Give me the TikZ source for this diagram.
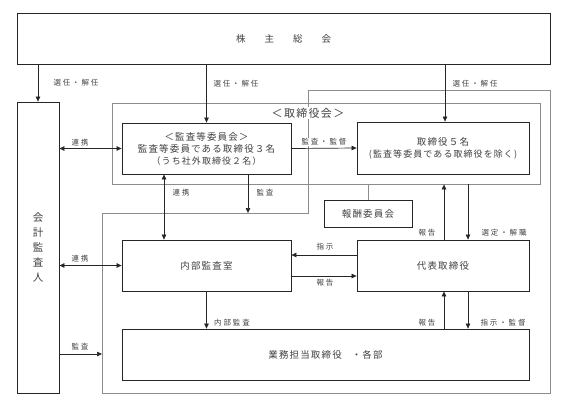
\documentclass[tikz,border=0pt]{standalone}
\usepackage{fontspec}
\setmainfont{Noto Sans CJK JP}
\newfontfamily\boxfont[LetterSpace=12]{Noto Sans CJK JP}
\newfontfamily\lblfont[LetterSpace=25]{Noto Sans CJK JP}
\usetikzlibrary{arrows.meta}
\tikzset{
  box/.style={draw=black!85, line width=.8bp, text=black!75, inner sep=0pt, align=center,
    font=\fontsize{9.5bp}{12bp}\selectfont\boxfont},
  grayline/.style={draw=black!45, line width=.8bp},
  lbl/.style={text=black!75, inner sep=1bp, font=\fontsize{7.5bp}{9bp}\selectfont\lblfont},
  conn/.style={draw=black!85, line width=.7bp},
  >={Triangle[length=5bp,width=4.5bp]}
}
\begin{document}
\begin{tikzpicture}[x=1bp,y=-1bp]
\useasboundingbox (0,0) rectangle (567,406);

% gray frames
\draw[grayline] (308,90) -- (550,90) -- (550,393) -- (102,393) -- (102,213) -- (308,213) -- cycle;
\node[grayline, minimum width=428bp, minimum height=81bp] (board) at (326,143.5) {};
\node[text=black!75, fill=white, inner sep=1bp, font=\fontsize{11bp}{13bp}\selectfont\boxfont] (boardlbl) at (308,113) {＜取締役会＞};

% boxes
\node[box, minimum width=533bp, minimum height=51bp] (sh) at (283.5,38.5) {株\hspace{19bp}主\hspace{19bp}総\hspace{19bp}会};
\node[box, minimum width=42bp, minimum height=291bp, font=\fontsize{10.5bp}{15bp}\selectfont] (aud) at (38,247.5) {会\\計\\監\\査\\人};
\node[box, fill=white, minimum width=169bp, minimum height=51bp] (ac) at (206.5,148.5) {＜監査等委員会＞\\監査等委員である取締役３名\\{\fontsize{9bp}{12bp}\selectfont（うち社外取締役２名）}};
\node[box, fill=white, minimum width=172bp, minimum height=52bp] (dir) at (443,148) {取締役５名\\{\fontsize{9bp}{12bp}\selectfont(監査等委員である取締役を除く)}};
\node[box, minimum width=88bp, minimum height=27bp] (rem) at (368,213.5) {報酬委員会};
\node[box, minimum width=169bp, minimum height=51bp] (ia) at (206.5,265.5) {内部監査室};
\node[box, minimum width=172bp, minimum height=51bp] (rep) at (443,265.5) {代表取締役};
\node[box, minimum width=407bp, minimum height=51bp] (biz) at (325.5,354.5) {業務担当取締役\hspace{10bp}・各部};

\coordinate (acaud) at (248,213);
\coordinate (audbiz) at (102,354);

% connectors
\draw[conn,->] (aud.north |- sh.south) -- (aud.north);
\draw[conn,->] (ac.north |- sh.south) -- (ac.north);
\draw[conn,->] ([xshift=2bp]dir.north |- sh.south) -- ([xshift=2bp]dir.north);
\draw[conn,<->] (aud.east |- ac.west) -- (ac.west);
\draw[conn,->] (ac.east) -- (dir.west);
\draw[conn,<->] ([xshift=-42.5bp]ac.south) -- ([xshift=-42.5bp]ia.north);
\draw[conn,->] (acaud |- ac.south) -- (acaud);
\draw[grayline] (rem.north) -- (rem.north |- board.south);
\draw[conn,->] ([xshift=1bp]rep.north) -- ([xshift=1bp]rep.north |- board.south);
\draw[conn,->] ([xshift=25bp]rep.north |- board.south) -- ([xshift=25bp]rep.north);
\draw[conn,->] ([yshift=10.5bp]rep.west) -- ([yshift=10.5bp]rep.west -| ia.east);
\draw[conn,->] ([yshift=-10.5bp]ia.east) -- ([yshift=-10.5bp]ia.east -| rep.west);
\draw[conn,<->] (aud.east |- ia.west) -- (ia.west);
\draw[conn,->] (ia.south) -- (ia.south |- biz.north);
\draw[conn,->] ([xshift=1bp]biz.north -| rep.south) -- ([xshift=1bp]rep.south);
\draw[conn,->] ([xshift=25bp]rep.south) -- ([xshift=25bp]rep.south |- biz.north);
\draw[conn,->] (aud.east |- audbiz) -- (audbiz);

% labels
\node[lbl] (l1) at (76,83) {選任・解任};
\node[lbl] (l2) at (236,84) {選任・解任};
\node[lbl] (l3) at (475,84) {選任・解任};
\node[lbl] (l4) at (80,143) {連携};
\node[lbl, fill=white] (l5) at (324,142) {監査・監督};
\node[lbl] (l6) at (181,193) {連携};
\node[lbl] (l7) at (265,193) {監査};
\node[lbl] (l8) at (427,233) {報告};
\node[lbl] (l9) at (504,233) {選定・解職};
\node[lbl] (l10) at (325,247) {指示};
\node[lbl] (l11) at (325,283) {報告};
\node[lbl] (l12) at (80,259) {連携};
\node[lbl] (l13) at (232,323) {内部監査};
\node[lbl] (l14) at (427,323) {報告};
\node[lbl] (l15) at (503,323) {指示・監督};
\node[lbl] (l16) at (80,347) {監査};
\end{tikzpicture}
\end{document}
